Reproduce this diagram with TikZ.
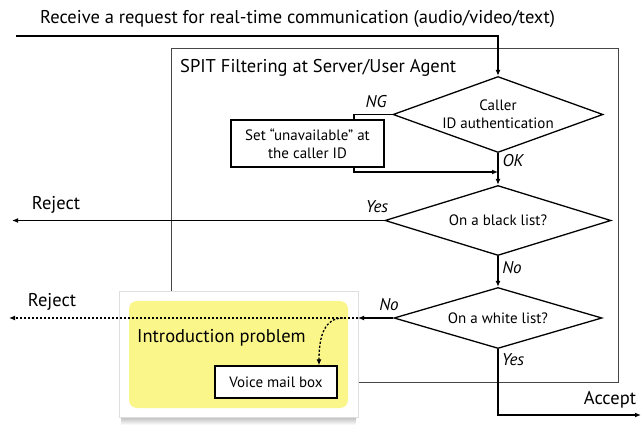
\documentclass[tikz,border=0pt]{standalone}
\usepackage{fontspec}
\setmainfont{PT Sans}
\usetikzlibrary{shapes.geometric,arrows.meta,calc}
\definecolor{hiyellow}{RGB}{251,246,138}
\definecolor{boxline}{RGB}{70,70,70}
\tikzset{
  flow/.style={line width=1.3pt,-{Latex[length=6pt,width=5pt]}},
  plain/.style={line width=1.3pt},
  dotflow/.style={line width=1.3pt,dash pattern=on 2.2pt off 1.8pt,-{Latex[length=6pt,width=5pt]}},
  decision/.style={draw,line width=1.3pt,shape=diamond,inner sep=0pt,font=\fontsize{15}{17.5}\selectfont,align=center},
  procbox/.style={draw,line width=1.3pt,rectangle,inner sep=0pt,font=\fontsize{15}{18}\selectfont,align=center},
  lab/.style={font=\fontsize{17}{19}\selectfont\itshape,inner sep=0pt},
  big/.style={font=\fontsize{18.5}{21}\selectfont,inner sep=0pt},
}
\begin{document}
\begin{tikzpicture}[x=1pt,y=-1pt]
\useasboundingbox (0,0) rectangle (641,425);
% outer frame
\node[draw=boxline,line width=0.9pt,rectangle,minimum width=447pt,minimum height=334pt,inner sep=0pt] (frame) at (394.5,215) {};
\node[big,anchor=west] (title) at (180,68) {SPIT Filtering at Server/User Agent};
% shadow card and yellow panel
\shade[top color=gray!70,bottom color=white] (121,414) rectangle (356,425);
\node[fill=white,draw=gray!25,line width=0.6pt,rectangle,minimum width=239pt,minimum height=126pt,inner sep=0pt] (card) at (238.5,354) {};
\node[fill=hiyellow,rectangle,rounded corners=8pt,minimum width=219pt,minimum height=107pt,inner sep=0pt] (panel) at (238.5,354.5) {};
\node[big,anchor=west] (intro) at (137,338) {Introduction problem};
\node[procbox,fill=white,minimum width=122pt,minimum height=32pt] (vmb) at (276,382) {Voice mail box};
% top request
\node[big,anchor=west] (req) at (40,19) {Receive a request for real-time communication (audio/video/text)};
\coordinate (start) at (16,36);
% decisions
\node[decision,aspect=2.76,minimum width=210pt,minimum height=76pt] (d1) at (498,114.5) {Caller\\ID authentication};
\node[decision,aspect=3.23,minimum width=226pt,minimum height=70pt] (d2) at (498,220.5) {On a black list?};
\node[decision,aspect=3.41,minimum width=208pt,minimum height=61pt] (d3) at (498,318) {On a white list?};
\node[procbox,minimum width=153pt,minimum height=47pt] (unav) at (307.5,143.5) {Set “unavailable” at\\the caller ID};
% coordinates
\coordinate (ngx) at (354,0);
\coordinate (merge) at (498,172);
\coordinate (rej1) at (12,220.5);
\coordinate (nox) at (358,318);
\coordinate (branch) at (343,318);
\coordinate (rej2) at (9,318);
\coordinate (acc) at (641,415);
% connectors
\draw[flow] (start) -| (d1.north);
\draw[plain] (d1.west) -| (unav.north -| ngx);
\draw[flow] (unav.south -| ngx) |- (merge);
\draw[flow] (d1.south) -- (d2.north);
\draw[flow] (d2.west) -- (rej1);
\draw[flow] (d2.south) -- (d3.north);
\draw[flow] (d3.west) -- (nox);
\draw[dotflow] (nox) -- (rej2);
\draw[dotflow] (branch) .. controls (325,318) and (319,335) .. (vmb.north -| 319,0);
\draw[flow] (d3.south) |- (acc);
% labels
\node[lab] (ng) at (376,102) {NG};
\node[lab] (ok) at (513,161) {OK};
\node[lab] (yes1) at (377,207) {Yes};
\node[lab] (no1) at (512,268) {No};
\node[lab] (no2) at (389,305) {No};
\node[lab] (yes2) at (513,360) {Yes};
\node[big] (reject1) at (56,205) {Reject};
\node[big] (reject2) at (52,302) {Reject};
\node[big] (accept) at (610,400) {Accept};
\end{tikzpicture}
\end{document}
